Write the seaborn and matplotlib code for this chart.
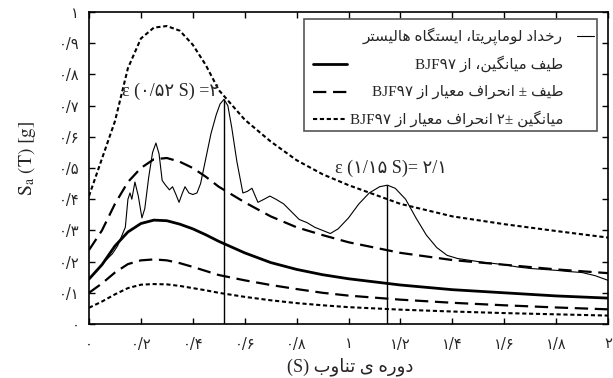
import matplotlib
matplotlib.use("Agg")
import matplotlib.pyplot as plt
import numpy as np
import pandas as pd
import seaborn as sns
from matplotlib.lines import Line2D
from matplotlib.patches import Rectangle

# ---------------------------------------------------------------- data
# BJF97 attenuation spectra (period in s, Sa in g)
T_model = [0, 0.05, 0.1, 0.15, 0.2, 0.25, 0.3, 0.35, 0.4, 0.45, 0.5,
           0.6, 0.7, 0.8, 0.9, 1.0, 1.2, 1.4, 1.6, 1.8, 2.0]
sa_mean = [0.144, 0.19, 0.25, 0.295, 0.322, 0.333, 0.331, 0.32, 0.305, 0.286, 0.265,
           0.228, 0.197, 0.175, 0.158, 0.145, 0.125, 0.11, 0.1, 0.09, 0.083]
sa_plus1 = [0.237, 0.30, 0.385, 0.455, 0.50, 0.528, 0.532, 0.52, 0.50, 0.472, 0.44,
            0.39, 0.345, 0.31, 0.285, 0.262, 0.228, 0.205, 0.19, 0.175, 0.163]
sa_minus1 = [0.10, 0.13, 0.165, 0.192, 0.204, 0.207, 0.204, 0.195, 0.183, 0.17, 0.157,
             0.14, 0.125, 0.112, 0.1, 0.091, 0.078, 0.068, 0.06, 0.053, 0.047]
sa_plus2 = [0.41, 0.53, 0.65, 0.82, 0.915, 0.95, 0.955, 0.94, 0.895, 0.83, 0.75,
            0.655, 0.585, 0.525, 0.48, 0.445, 0.385, 0.345, 0.32, 0.298, 0.277]
sa_minus2 = [0.052, 0.072, 0.095, 0.115, 0.126, 0.128, 0.127, 0.122, 0.115, 0.108, 0.10,
             0.087, 0.076, 0.067, 0.06, 0.054, 0.046, 0.04, 0.035, 0.031, 0.027]

# Loma Prieta record, Hollister station
T_rec = [0, 0.03, 0.06, 0.09, 0.11, 0.125, 0.14, 0.15, 0.158, 0.165, 0.177, 0.19,
         0.204, 0.215, 0.23, 0.245, 0.258, 0.27, 0.282, 0.295, 0.31, 0.322, 0.335,
         0.347, 0.36, 0.37, 0.385, 0.4, 0.416, 0.43, 0.45, 0.47, 0.49, 0.505, 0.52,
         0.535, 0.55, 0.57, 0.593, 0.61, 0.628, 0.651, 0.675, 0.697, 0.72, 0.75,
         0.78, 0.81, 0.84, 0.87, 0.9, 0.93, 0.96, 1.0, 1.04, 1.08, 1.12, 1.15, 1.18,
         1.22, 1.26, 1.3, 1.34, 1.38, 1.42, 1.46, 1.5, 1.55, 1.6, 1.65, 1.7, 1.75,
         1.8, 1.85, 1.9, 1.95, 2.0]
sa_rec = [0.145, 0.17, 0.2, 0.225, 0.25, 0.28, 0.31, 0.40, 0.42, 0.40, 0.455, 0.41,
          0.34, 0.37, 0.47, 0.55, 0.58, 0.545, 0.46, 0.445, 0.43, 0.44, 0.415,
          0.39, 0.42, 0.44, 0.42, 0.415, 0.42, 0.45, 0.53, 0.61, 0.67, 0.705, 0.72,
          0.70, 0.63, 0.52, 0.42, 0.425, 0.435, 0.39, 0.40, 0.41, 0.40, 0.385,
          0.36, 0.335, 0.325, 0.31, 0.30, 0.29, 0.305, 0.34, 0.385, 0.42, 0.44, 0.445, 0.435,
          0.40, 0.34, 0.285, 0.245, 0.22, 0.21, 0.205, 0.2, 0.195, 0.19, 0.183, 0.178, 0.175,
          0.172, 0.168, 0.165, 0.155, 0.14]

# epsilon markers: period, spectral value, epsilon label
eps_T = [0.52, 1.15]
eps_sa = [0.72, 0.445]
eps_text = ["ε (۰/۵۲ S) =۲", "ε (۱/۱۵ S)= ۲/۱"]

x_ticks = [0, 0.2, 0.4, 0.6, 0.8, 1.0, 1.2, 1.4, 1.6, 1.8, 2.0]
x_ticklabels = ["۰", "۰/۲", "۰/۴", "۰/۶", "۰/۸", "۱", "۱/۲", "۱/۴", "۱/۶", "۱/۸", "۲"]
y_ticks = [0, 0.1, 0.2, 0.3, 0.4, 0.5, 0.6, 0.7, 0.8, 0.9, 1.0]
y_ticklabels = ["۰", "۰/۱", "۰/۲", "۰/۳", "۰/۴", "۰/۵", "۰/۶", "۰/۷", "۰/۸", "۰/۹", "۱"]

# ------------------------------------------------------- Persian shaping
# isolated, final, initial, medial presentation forms
FORMS = {
    "\u0627": ("\uFE8D", "\uFE8E", None, None),
    "\u0628": ("\uFE8F", "\uFE90", "\uFE91", "\uFE92"),
    "\u067E": ("\uFB56", "\uFB57", "\uFB58", "\uFB59"),
    "\u062A": ("\uFE95", "\uFE96", "\uFE97", "\uFE98"),
    "\u062D": ("\uFEA1", "\uFEA2", "\uFEA3", "\uFEA4"),
    "\u062E": ("\uFEA5", "\uFEA6", "\uFEA7", "\uFEA8"),
    "\u062F": ("\uFEA9", "\uFEAA", None, None),
    "\u0631": ("\uFEAD", "\uFEAE", None, None),
    "\u0632": ("\uFEAF", "\uFEB0", None, None),
    "\u0633": ("\uFEB1", "\uFEB2", "\uFEB3", "\uFEB4"),
    "\u0637": ("\uFEC1", "\uFEC2", "\uFEC3", "\uFEC4"),
    "\u0639": ("\uFEC9", "\uFECA", "\uFECB", "\uFECC"),
    "\u0641": ("\uFED1", "\uFED2", "\uFED3", "\uFED4"),
    "\u06AF": ("\uFB92", "\uFB93", "\uFB94", "\uFB95"),
    "\u0644": ("\uFEDD", "\uFEDE", "\uFEDF", "\uFEE0"),
    "\u0645": ("\uFEE1", "\uFEE2", "\uFEE3", "\uFEE4"),
    "\u0646": ("\uFEE5", "\uFEE6", "\uFEE7", "\uFEE8"),
    "\u0647": ("\uFEE9", "\uFEEA", "\uFEEB", "\uFEEC"),
    "\u0648": ("\uFEED", "\uFEEE", None, None),
    "\u06CC": ("\uFBFC", "\uFBFD", "\uFBFE", "\uFBFF"),
}


def shape(s):
    out = []
    for i, c in enumerate(s):
        if c not in FORMS:
            out.append(c)
            continue
        iso, fin, ini, med = FORMS[c]
        prev = s[i - 1] if i > 0 else None
        nxt = s[i + 1] if i + 1 < len(s) else None
        jp = prev in FORMS and FORMS[prev][2] is not None
        jn = ini is not None and nxt in FORMS
        if jp and jn:
            out.append(med)
        elif jp:
            out.append(fin)
        elif jn:
            out.append(ini)
        else:
            out.append(iso)
    return "".join(out)


def rtl(s):
    # joined glyphs laid out right-to-left
    return shape(s)[::-1]


# ---------------------------------------------------------------- figure
sns.set_style("ticks")
plt.rcParams["font.family"] = ["Liberation Serif", "DejaVu Sans"]
plt.rcParams["mathtext.fontset"] = "stix"
FAM = ["Liberation Serif", "DejaVu Sans"]

W, H = 613, 378
fig = plt.figure(figsize=(W / 100, H / 100), dpi=100)
ax = fig.add_axes([89 / W, 54 / H, 519 / W, 312 / H])


def fpx(x, y):
    return x / W, 1 - y / H


df_model = pd.DataFrame({"T": T_model, "mean": sa_mean, "p1": sa_plus1,
                         "m1": sa_minus1, "p2": sa_plus2, "m2": sa_minus2})
df_rec = pd.DataFrame({"T": T_rec, "Sa": sa_rec})

sns.lineplot(data=df_rec, x="T", y="Sa", ax=ax, color="black", lw=0.8)
sns.lineplot(data=df_model, x="T", y="mean", ax=ax, color="black", lw=2.0)
for col in ["p1", "m1"]:
    sns.lineplot(data=df_model, x="T", y=col, ax=ax, color="black", lw=1.6,
                 dashes=False, linestyle=(0, (6, 3)))
for col in ["p2", "m2"]:
    sns.lineplot(data=df_model, x="T", y=col, ax=ax, color="black", lw=1.5,
                 dashes=False, linestyle=(0, (2, 1.3)))

ax.vlines(eps_T, 0, eps_sa, color="black", lw=1.0)
ax.text(eps_T[0] - 0.02, eps_sa[0] + 0.025, eps_text[0], ha="right", va="center",
        fontsize=13, family=FAM)
ax.text(eps_T[1] + 0.23, eps_sa[1] + 0.055, eps_text[1], ha="right", va="center",
        fontsize=13, family=FAM)

ax.set_xlim(0, 2)
ax.set_ylim(0, 1)
ax.set_xticks(x_ticks)
ax.set_xticklabels(x_ticklabels, family=["DejaVu Sans"], fontsize=10.5)
ax.set_yticks(y_ticks)
ax.set_yticklabels(y_ticklabels, family=["DejaVu Sans"], fontsize=10.5)
ax.tick_params(direction="in", top=True, right=True, length=4, width=1, color="black")
ax.tick_params(axis="x", pad=9)
ax.tick_params(axis="y", pad=7)
for sp in ax.spines.values():
    sp.set_color("black")
    sp.set_linewidth(1.2)
ax.set_xlabel("")
ax.set_ylabel("")

fig.text(*fpx(350, 367), "(S) " + rtl("دوره ی تناوب"), ha="center", va="center",
         fontsize=13, family=FAM)
fig.text(*fpx(27, 158), r"$\mathrm{S_a\ (T)\ [g]}$", rotation=90, ha="center",
         va="center", fontsize=14)

# legend box drawn by hand (right-to-left labels)
x0, y0 = fpx(304, 131)
x1, y1 = fpx(597, 19)
fig.add_artist(Rectangle((x0, y0), x1 - x0, y1 - y0, transform=fig.transFigure,
                         fill=True, facecolor="white", edgecolor="#555555", lw=1.2))
rows = [36, 64, 92, 119]
fig.add_artist(Line2D([577 / W, 594 / W], [1 - rows[0] / H] * 2, color="black", lw=0.8))
fig.text(*fpx(563, rows[0]), rtl("رخداد لوماپریتا، ایستگاه هالیستر"),
         ha="right", va="center", fontsize=11, family=FAM)
styles = [dict(lw=2.0), dict(lw=1.6, ls=(0, (6, 3))), dict(lw=1.5, ls=(0, (2, 1.3)))]
labels = [rtl("طیف میانگین، از"), rtl("طیف ± انحراف معیار از"),
          rtl("میانگین ±۲ انحراف معیار از")]
for r, st, lab in zip(rows[1:], styles, labels):
    fig.add_artist(Line2D([313 / W, 347 / W], [1 - r / H] * 2, color="black", **st))
    fig.text(*fpx(563, r), "BJF۹۷ " + lab, ha="right", va="center",
             fontsize=11, family=FAM)

fig.savefig("out.png", dpi=100)
